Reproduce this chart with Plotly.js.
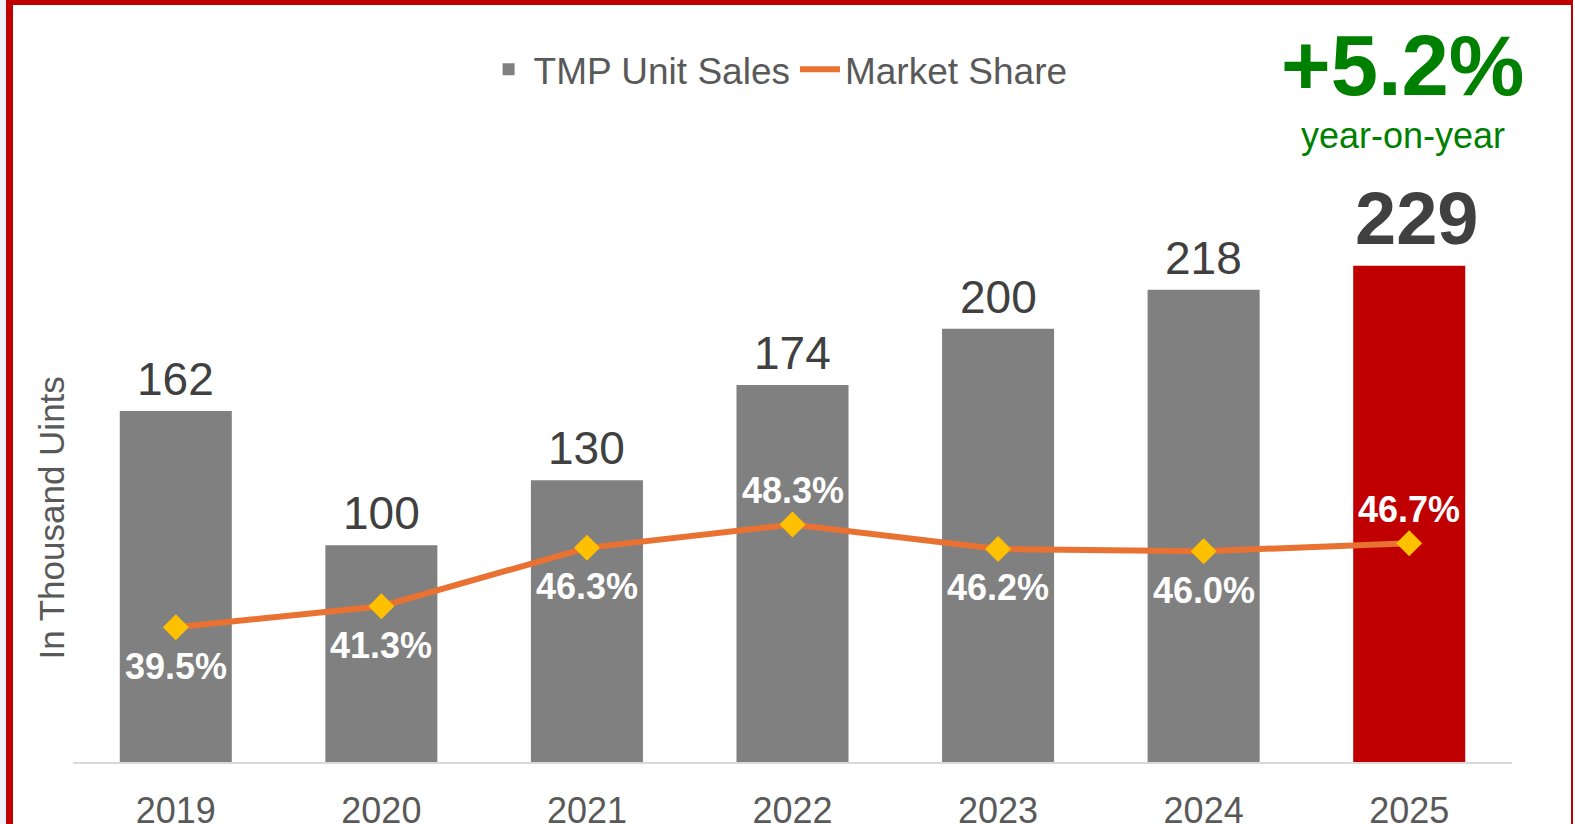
<!DOCTYPE html>
<html>
<head>
<meta charset="utf-8">
<script src="https://cdn.plot.ly/plotly-3.0.1.min.js"></script>
<style>
  html, body { margin: 0; padding: 0; width: 1575px; height: 824px; overflow: hidden; background: #ffffff; }
  #strip { position: absolute; left: 0; top: 0; width: 6px; height: 824px; background: #eef3fb; }
  #frame { position: absolute; left: 6px; top: 0; width: 1567px; height: 1000px; box-sizing: border-box;
           border-left: 7px solid #c00000; border-top: 5px solid #c00000; border-right: 2px solid #c00000; background: #ffffff; }
  #chart { position: absolute; left: 0; top: 0; width: 1575px; height: 824px; }
</style>
</head>
<body>
<div id="strip"></div>
<div id="frame"></div>
<div id="chart"></div>
<script>
// ---- data ----
const years = ['2019', '2020', '2021', '2022', '2023', '2024', '2025'];
const unitSales = [162, 100, 130, 174, 200, 218, 229];           // thousand units
const marketShare = [39.5, 41.3, 46.3, 48.3, 46.2, 46.0, 46.7];   // percent
const shareLabelSide = ['below', 'below', 'below', 'above', 'below', 'below', 'above'];
const yoyText = '+5.2%';
const yoySub = 'year-on-year';
const seriesNames = ['TMP Unit Sales', 'Market Share'];
const yTitle = 'In Thousand Uints';

// ---- styles ----
const FONT = '"Liberation Sans", Arial, sans-serif';
const last = years.length - 1;
const barColors = years.map((_, i) => i === last ? '#c00000' : '#808080');

const bars = {
  type: 'bar', name: seriesNames[0], x: years, y: unitSales,
  marker: { color: barColors }, hoverinfo: 'x+y'
};
const shareLine = {
  type: 'scatter', mode: 'lines', name: seriesNames[1], x: years, y: marketShare,
  yaxis: 'y2', line: { color: '#e97132', width: 6 }
};
const shareMarkers = {
  type: 'scatter', mode: 'markers', name: seriesNames[1], x: years, y: marketShare,
  yaxis: 'y2', showlegend: false,
  marker: { symbol: 'diamond', size: 20, color: '#ffc000', line: { width: 0 } }
};

const annotations = [];
// bar value labels (x given as category index)
years.forEach((yr, i) => {
  const hl = i === last;
  annotations.push({
    x: i, y: unitSales[i], xref: 'x', yref: 'y', text: String(unitSales[i]),
    showarrow: false, xanchor: 'center', yanchor: 'bottom', yshift: hl ? 4 : 4, xshift: hl ? 7 : 0,
    font: { family: FONT, size: hl ? 74 : 46, color: '#404040', weight: hl ? 700 : 400 }
  });
});
// market share labels
years.forEach((yr, i) => {
  const above = shareLabelSide[i] === 'above';
  annotations.push({
    x: i, y: marketShare[i], xref: 'x', yref: 'y2', text: marketShare[i].toFixed(1) + '%',
    showarrow: false, xanchor: 'center', yanchor: 'middle', yshift: above ? 34 : -39,
    font: { family: FONT, size: 36, color: '#ffffff', weight: 700 }
  });
});
// y axis title
annotations.push({
  xref: 'paper', yref: 'paper', x: -0.0146, y: 0.376, text: yTitle, textangle: -90,
  showarrow: false, xanchor: 'center', yanchor: 'middle',
  font: { family: FONT, size: 35, color: '#595959' }
});
// YoY callout
annotations.push({
  xref: 'paper', yref: 'paper', x: 0.924, y: 1.0723, text: yoyText,
  showarrow: false, xanchor: 'center', yanchor: 'middle',
  font: { family: FONT, size: 85, color: '#008000', weight: 700 }
});
annotations.push({
  xref: 'paper', yref: 'paper', x: 0.924, y: 0.9638, text: yoySub,
  showarrow: false, xanchor: 'center', yanchor: 'middle',
  font: { family: FONT, size: 36, color: '#008000' }
});

const layout = {
  width: 1575, height: 824,
  margin: { l: 73, r: 63, t: 112, b: 62 },
  paper_bgcolor: 'rgba(0,0,0,0)', plot_bgcolor: 'rgba(0,0,0,0)',
  font: { family: FONT, color: '#595959' },
  bargap: 0.455,
  showlegend: true,
  legend: {
    orientation: 'h', x: 0.49, xanchor: 'center', y: 1.065, yanchor: 'middle',
    font: { family: FONT, size: 37, color: '#595959' }, bgcolor: 'rgba(0,0,0,0)',
    itemwidth: 40
  },
  xaxis: {
    type: 'category', range: [-0.5, years.length - 0.5], autorange: false,
    showgrid: false, zeroline: false,
    showline: true, linecolor: '#d9d9d9', linewidth: 2, ticks: '',
    ticklabelstandoff: 16,
    tickfont: { family: FONT, size: 36, color: '#595959' }
  },
  yaxis: { range: [0, 300], autorange: false, visible: false, showgrid: false, zeroline: false },
  yaxis2: { range: [27.97, 83.6], autorange: false, overlaying: 'y', side: 'right', visible: false, showgrid: false, zeroline: false },
  annotations: annotations
};

Plotly.newPlot('chart', [bars, shareLine, shareMarkers], layout, { displayModeBar: false, staticPlot: true });
</script>
</body>
</html>
